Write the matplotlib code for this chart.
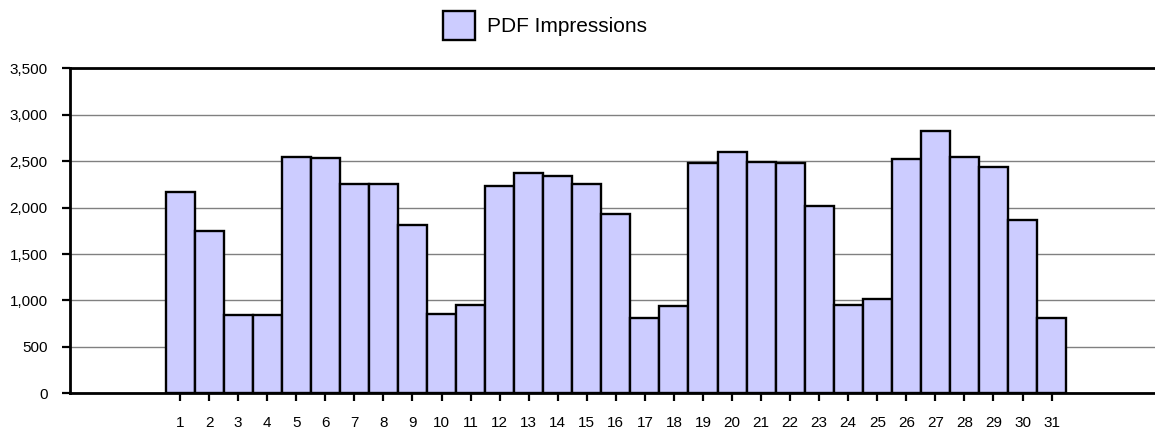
import matplotlib
matplotlib.use("Agg")
import matplotlib.pyplot as plt
from matplotlib.ticker import FuncFormatter, MultipleLocator

days = list(range(1, 32))
impressions = [2165, 1745, 847, 847, 2542, 2534, 2254, 2258, 1812, 851,
               951, 2233, 2373, 2337, 2254, 1931, 808, 943, 2481, 2602,
               2490, 2481, 2017, 954, 1016, 2521, 2825, 2548, 2434, 1870, 808]
series_name = "PDF Impressions"

plt.rcParams['font.family'] = ['Liberation Sans', 'DejaVu Sans']

fig = plt.figure(figsize=(11.55, 4.30), dpi=100)
ax = fig.add_axes([70/1155, 1-393.3/430, 1-70/1155, (393.3-68.3)/430])

bars = ax.bar(days, impressions, width=1.0, color='#CCCCFF', edgecolor='black',
              linewidth=1.7, label=series_name, zorder=3)

ax.set_xlim(-2.79, 34.56)
ax.set_ylim(0, 3500)
ax.yaxis.set_major_locator(MultipleLocator(500))
ax.yaxis.set_major_formatter(FuncFormatter(lambda v, p: f"{int(v):,}"))
ax.set_xticks(days)
ax.set_xticklabels([str(d) for d in days])

ax.grid(axis='y', color='#808080', linewidth=1.0, zorder=0)
ax.set_axisbelow(True)

for s in ['left', 'bottom', 'top']:
    ax.spines[s].set_linewidth(2.0)
    ax.spines[s].set_color('black')
ax.spines['right'].set_visible(False)
ax.spines['left'].set_zorder(4)
ax.spines['bottom'].set_zorder(4)

ax.tick_params(axis='y', direction='out', length=6, width=1.6, pad=10,
               labelsize=11, colors='black')
ax.tick_params(axis='x', direction='out', length=6, width=1.6, pad=10,
               labelsize=11, colors='black')

fig.legend(handles=[bars], labels=[series_name], loc='center',
           bbox_to_anchor=(0.472, 0.941), frameon=False, fontsize=15,
           handlelength=1.52, handleheight=1.75, handletextpad=0.62)

fig.savefig('out.png', dpi=100)
